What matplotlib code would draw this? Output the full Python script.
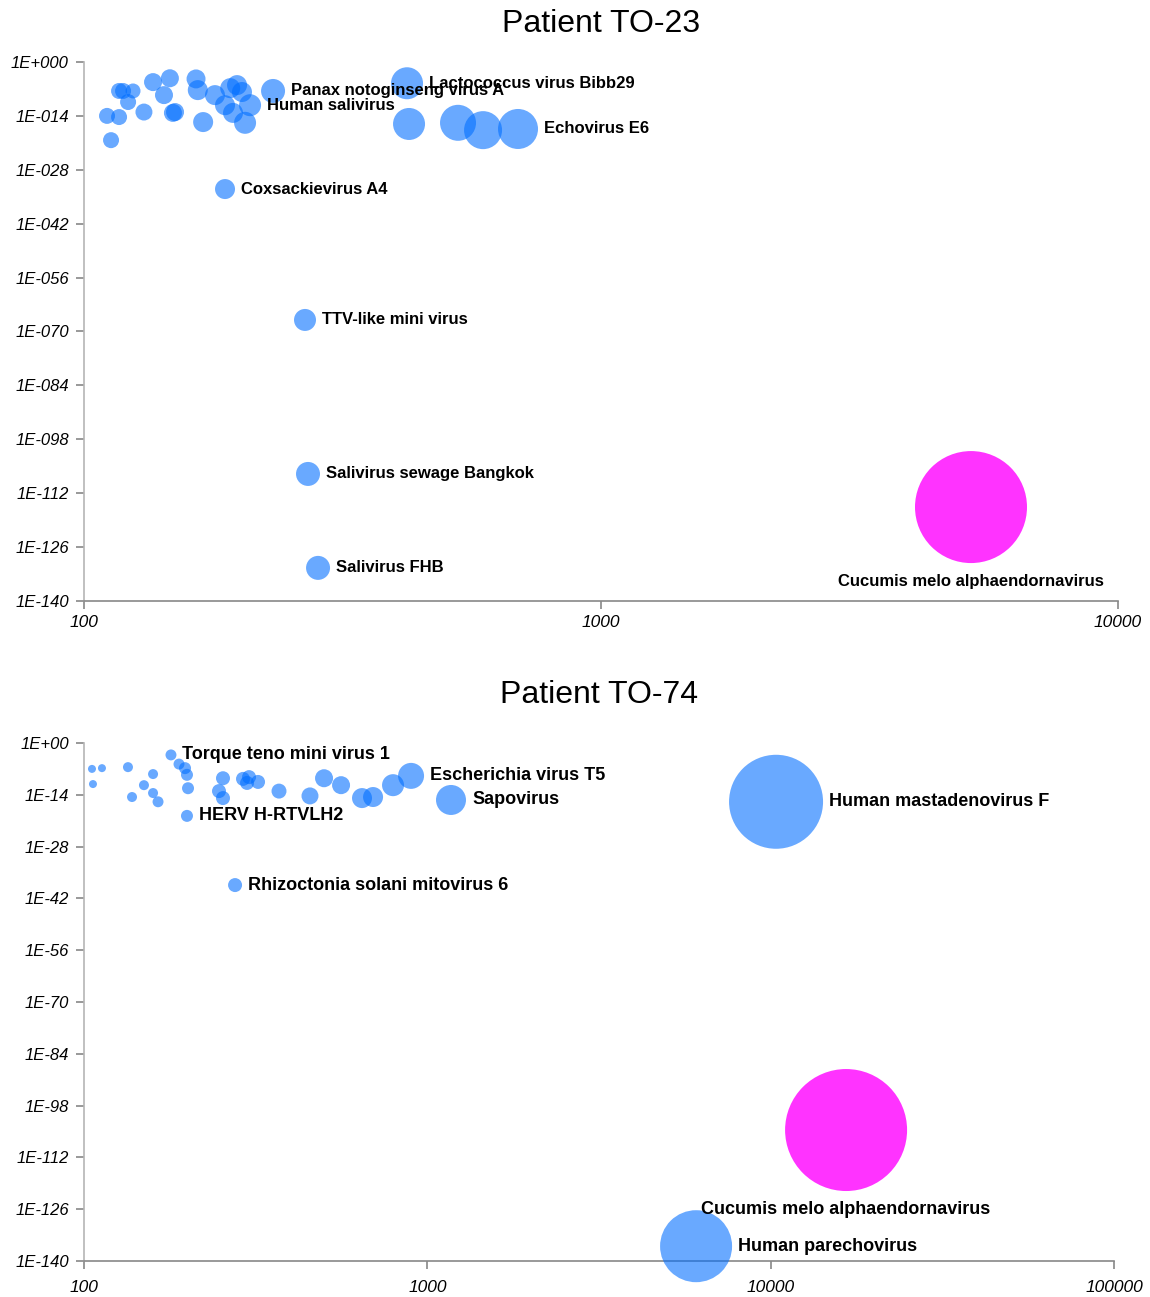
import numpy as np
import matplotlib
matplotlib.use('Agg')
import matplotlib.pyplot as plt
from matplotlib.ticker import FixedLocator, FuncFormatter, NullLocator

plt.rcParams['font.family'] = ['Liberation Sans', 'DejaVu Sans']

# ---- Patient TO-23 ----
names1 = ['', '', '', '', '', '', '', '', '', '', '', '', '', '', '', '', '', '', '', '', '', '',
          'Human salivirus', '', 'Panax notoginseng virus A', 'Coxsackievirus A4',
          'TTV-like mini virus', 'Salivirus sewage Bangkok', 'Salivirus FHB',
          'Lactococcus virus Bibb29', '', '', '', 'Echovirus E6',
          'Cucumis melo alphaendornavirus']
length1 = [110.8, 116.9, 112.8, 116.9, 119.0, 124.4, 121.7, 130.6, 136.0, 142.8, 146.6, 150.0,
           148.6, 164.7, 166.0, 170.0, 179.2, 187.4, 191.8, 197.7, 202.1, 194.2,
           209.5, 204.9, 232.1, 187.4, 267.6, 271.2, 283.6,
           421.5, 425.3, 529.0, 591.4, 691.0, 5196.0]
evalue1 = [1e-14, 5e-15, 5e-21, 3e-8, 3e-8, 3e-8, 4e-11, 1e-13, 6e-6, 2.5e-9, 6e-5, 1e-13,
           6e-14, 4e-5, 5e-8, 2.5e-16, 2.5e-9, 6e-12, 1.6e-7, 1e-6, 1.6e-8, 6e-14,
           6e-12, 1.6e-16, 3e-8, 1e-33, 1e-67, 1e-107, 4e-132,
           3e-6, 8e-17, 1.6e-16, 2e-18, 4e-18, 2.5e-116]
weight1 = [64, 64, 64, 64, 64, 56, 64, 72, 81, 81, 81, 81,
           81, 90, 100, 100, 100, 100, 100, 100, 100, 100,
           121, 121, 144, 100, 121, 144, 144,
           256, 256, 324, 361, 400, 3136]

# ---- Patient TO-74 ----
names2 = ['', '', '', '', '', '', '', '', '', 'Torque teno mini virus 1', '', '', '', '',
          'HERV H-RTVLH2', '', '', '', '', '', '', '', '', '', '', '', '', '', '',
          'Escherichia virus T5', 'Sapovirus', 'Rhizoctonia solani mitovirus 6',
          'Human mastadenovirus F', 'Cucumis melo alphaendornavirus', 'Human parechovirus']
length2 = [105.5, 112.8, 106.2, 134.3, 138.0, 149.5, 158.9, 158.9, 164.3, 179.2, 189.1, 196.9,
           199.5, 200.9, 199.5, 254.0, 247.3, 254.0, 290.5, 302.5, 298.5, 321.3, 369.8,
           455.2, 500.2, 560.7, 645.3, 694.9, 794.5,
           896.6, 1172.0, 275.4, 10368.0, 16583.0, 6064.0]
evalue2 = [1e-7, 1.6e-7, 8e-12, 3e-7, 2.5e-15, 4e-12, 4e-9, 3e-14, 1.3e-16, 6e-4, 2e-6, 1.6e-7,
           2.5e-9, 6e-13, 2e-20, 3e-10, 1e-13, 1.3e-15, 2e-10, 6e-10, 1.6e-11, 3e-11, 1e-13,
           5e-15, 3e-10, 4e-12, 1.3e-15, 2.5e-15, 4e-12,
           1.3e-9, 4e-16, 4e-39, 1.3e-16, 2.5e-105, 1e-136]
weight2 = [16, 16, 16, 25, 25, 25, 25, 25, 30, 30, 30, 36,
           36, 36, 36, 49, 49, 49, 49, 49, 49, 49, 56,
           72, 81, 81, 100, 100, 121,
           169, 225, 49, 2209, 3721, 1296]

BLUE = (0.0, 0.43, 1.0, 0.59)
PINK = (1.0, 0.0, 1.0, 0.8)
PX = 0.72  # points per pixel at 100 dpi


def draw_panel(ax, title, names, length, evalue, weight, xmax, ydigits, title_y,
               label_size, xpad):
    r = np.sqrt(np.array(weight, dtype=float))
    colors = [PINK if n.startswith('Cucumis') else BLUE for n in names]
    ax.scatter(length, evalue, s=(2 * r * PX) ** 2, c=colors, linewidths=0,
               clip_on=False, zorder=3)

    for n, x, y, rr in zip(names, length, evalue, r):
        if not n:
            continue
        if n.startswith('Cucumis'):
            ax.annotate(n, (x, y), xytext=(0, -(rr + 18)), textcoords='offset pixels',
                        ha='center', va='center', fontsize=label_size, fontweight='bold',
                        zorder=4)
        else:
            ax.annotate(n, (x, y), xytext=(rr + 6, 0), textcoords='offset pixels',
                        ha='left', va='center', fontsize=label_size, fontweight='bold',
                        zorder=4)

    ax.set_xscale('log')
    ax.set_yscale('log')
    ax.set_xlim(100, xmax)
    ax.set_ylim(1e-140, 1)

    exps = np.arange(0, 141, 14)
    ax.yaxis.set_major_locator(FixedLocator(10.0 ** -exps))
    ax.yaxis.set_minor_locator(NullLocator())

    def yfmt(v, pos):
        e = int(round(np.log10(v)))
        sign = '+' if e >= 0 else '-'
        return f'1E{sign}{abs(e):0{ydigits}d}'
    ax.yaxis.set_major_formatter(FuncFormatter(yfmt))

    xt = [10 ** k for k in range(2, int(np.log10(xmax)) + 1)]
    ax.xaxis.set_major_locator(FixedLocator(xt))
    ax.xaxis.set_minor_locator(NullLocator())
    ax.xaxis.set_major_formatter(FuncFormatter(lambda v, p: f'{int(v)}'))

    ax.tick_params(axis='both', labelsize=12.5, colors='#888888', labelcolor='black',
                   length=6, width=1.2)
    ax.tick_params(axis='y', pad=5, labelsize=12)
    ax.tick_params(axis='x', pad=xpad)

    for s in ['top', 'right']:
        ax.spines[s].set_visible(False)
    ax.spines['left'].set_color('#b5b5b5')
    ax.spines['left'].set_linewidth(1.2)
    ax.spines['bottom'].set_color('#888888')
    ax.spines['bottom'].set_linewidth(1.2)

    fig.text(0.5 * (ax.get_position().x0 + ax.get_position().x1), title_y, title,
             ha='center', va='center', fontsize=23)


fig = plt.figure(figsize=(11.5, 12.97), dpi=100)
ax1 = fig.add_axes([84 / 1150, 1 - 601 / 1297, (1118 - 84) / 1150, (601 - 62) / 1297])
ax2 = fig.add_axes([84 / 1150, 1 - 1261 / 1297, (1114 - 84) / 1150, (1261 - 743) / 1297])

draw_panel(ax1, 'Patient TO-23', names1, length1, evalue1, weight1, 10000, 3,
           1 - 24 / 1297, 12, 4)
draw_panel(ax2, 'Patient TO-74', names2, length2, evalue2, weight2, 100000, 2,
           1 - 695 / 1297, 13, 8)

# tick labels only exist after a draw
fig.canvas.draw()
for ax in (ax1, ax2):
    for lab in ax.get_xticklabels() + ax.get_yticklabels():
        lab.set_fontstyle('italic')

fig.savefig('out.png', dpi=100)
